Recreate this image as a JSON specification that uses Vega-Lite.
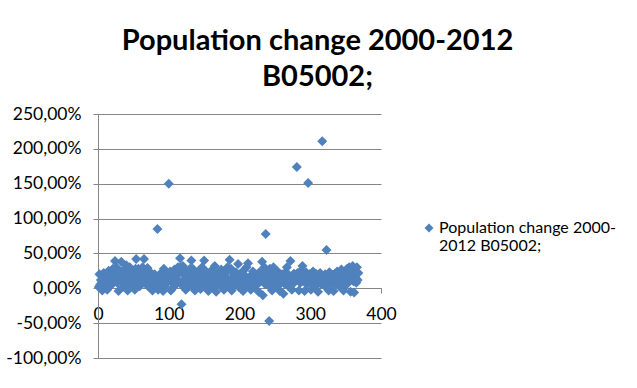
{
  "$schema": "https://vega.github.io/schema/vega-lite/v6.json",
  "width": 283,
  "height": 244,
  "autosize": "none",
  "padding": {"left": 98, "top": 114, "right": 256, "bottom": 30},
  "background": "white",
  "config": {
    "view": {"stroke": null},
    "font": "Lato",
    "axis": {"labelFont": "Lato", "labelFontSize": 17.5, "labelColor": "#000000", "domainColor": "#868686", "tickColor": "#868686", "gridColor": "#868686", "tickSize": 5}
  },
  "title": {
    "text": ["Population change 2000-2012", "B05002;"],
    "font": "Lato",
    "fontSize": 29,
    "fontWeight": "bold",
    "color": "#000000",
    "anchor": "middle",
    "frame": "group",
    "dx": 78,
    "offset": 13,
    "lineHeight": 36
  },
  "data": {"values": [
{"x":1,"y":2},{"x":2,"y":20},{"x":3,"y":5},{"x":4,"y":12},{"x":5,"y":8},{"x":6,"y":-3},{"x":7,"y":15},{"x":8,"y":22},{"x":9,"y":10},{"x":10,"y":4},
{"x":11,"y":18},{"x":12,"y":7},{"x":13,"y":-2},{"x":14,"y":14},{"x":15,"y":25},{"x":16,"y":9},{"x":17,"y":3},{"x":18,"y":16},{"x":19,"y":11},{"x":20,"y":6},
{"x":21,"y":28},{"x":22,"y":19},{"x":23,"y":13},{"x":24,"y":39},{"x":25,"y":20},{"x":26,"y":30},{"x":27,"y":8},{"x":28,"y":25},{"x":29,"y":-4},{"x":30,"y":17},
{"x":31,"y":12},{"x":32,"y":24},{"x":33,"y":38},{"x":34,"y":10},{"x":35,"y":2},{"x":36,"y":19},{"x":37,"y":27},{"x":38,"y":6},{"x":39,"y":15},{"x":40,"y":33},
{"x":41,"y":9},{"x":42,"y":-3},{"x":43,"y":21},{"x":44,"y":14},{"x":45,"y":30},{"x":46,"y":7},{"x":47,"y":18},{"x":48,"y":4},{"x":49,"y":12},{"x":50,"y":25},
{"x":51,"y":16},{"x":52,"y":-2},{"x":53,"y":28},{"x":54,"y":42},{"x":55,"y":22},{"x":56,"y":6},{"x":57,"y":28},{"x":58,"y":13},{"x":59,"y":3},{"x":60,"y":19},
{"x":61,"y":8},{"x":62,"y":24},{"x":63,"y":30},{"x":64,"y":15},{"x":65,"y":42},{"x":66,"y":20},{"x":67,"y":10},{"x":68,"y":20},{"x":69,"y":5},{"x":70,"y":29},
{"x":71,"y":14},{"x":72,"y":2},{"x":73,"y":18},{"x":74,"y":9},{"x":75,"y":22},{"x":76,"y":12},{"x":77,"y":-3},{"x":78,"y":16},{"x":79,"y":7},{"x":80,"y":20},
{"x":81,"y":11},{"x":82,"y":4},{"x":83,"y":13},{"x":84,"y":85},{"x":85,"y":-2},{"x":86,"y":8},{"x":87,"y":15},{"x":88,"y":21},{"x":89,"y":6},{"x":90,"y":11},
{"x":91,"y":17},{"x":92,"y":-4},{"x":93,"y":28},{"x":94,"y":10},{"x":95,"y":3},{"x":96,"y":14},{"x":97,"y":22},{"x":98,"y":9},{"x":99,"y":20},{"x":100,"y":150},
{"x":101,"y":12},{"x":102,"y":24},{"x":103,"y":-3},{"x":104,"y":16},{"x":105,"y":8},{"x":106,"y":19},{"x":107,"y":2},{"x":108,"y":27},{"x":109,"y":11},{"x":110,"y":6},
{"x":111,"y":18},{"x":112,"y":13},{"x":113,"y":30},{"x":114,"y":22},{"x":115,"y":9},{"x":116,"y":43},{"x":117,"y":31},{"x":118,"y":-23},{"x":119,"y":4},{"x":120,"y":32},
{"x":121,"y":20},{"x":122,"y":7},{"x":123,"y":14},{"x":124,"y":-2},{"x":125,"y":25},{"x":126,"y":11},{"x":127,"y":17},{"x":128,"y":5},{"x":129,"y":23},{"x":130,"y":28},
{"x":131,"y":9},{"x":132,"y":40},{"x":133,"y":3},{"x":134,"y":28},{"x":135,"y":12},{"x":136,"y":19},{"x":137,"y":-3},{"x":138,"y":8},{"x":139,"y":22},{"x":140,"y":14},
{"x":141,"y":6},{"x":142,"y":18},{"x":143,"y":26},{"x":144,"y":10},{"x":145,"y":-1},{"x":146,"y":15},{"x":147,"y":30},{"x":148,"y":7},{"x":149,"y":21},{"x":150,"y":40},
{"x":151,"y":3},{"x":152,"y":17},{"x":153,"y":24},{"x":154,"y":9},{"x":155,"y":14},{"x":156,"y":-4},{"x":157,"y":20},{"x":158,"y":6},{"x":159,"y":11},{"x":160,"y":25},
{"x":161,"y":8},{"x":162,"y":16},{"x":163,"y":2},{"x":164,"y":19},{"x":165,"y":32},{"x":166,"y":10},{"x":167,"y":-5},{"x":168,"y":14},{"x":169,"y":22},{"x":170,"y":7},
{"x":171,"y":18},{"x":172,"y":12},{"x":173,"y":4},{"x":174,"y":27},{"x":175,"y":9},{"x":176,"y":15},{"x":177,"y":21},{"x":178,"y":-2},{"x":179,"y":11},{"x":180,"y":17},
{"x":181,"y":6},{"x":182,"y":24},{"x":183,"y":30},{"x":184,"y":13},{"x":185,"y":3},{"x":186,"y":41},{"x":187,"y":10},{"x":188,"y":28},{"x":189,"y":-3},{"x":190,"y":15},
{"x":191,"y":8},{"x":192,"y":20},{"x":193,"y":12},{"x":194,"y":5},{"x":195,"y":23},{"x":196,"y":9},{"x":197,"y":16},{"x":198,"y":35},{"x":199,"y":2},{"x":200,"y":14},
{"x":201,"y":21},{"x":202,"y":7},{"x":203,"y":18},{"x":204,"y":11},{"x":205,"y":-4},{"x":206,"y":26},{"x":207,"y":13},{"x":208,"y":4},{"x":209,"y":17},{"x":210,"y":30},
{"x":211,"y":9},{"x":212,"y":36},{"x":213,"y":6},{"x":214,"y":15},{"x":215,"y":12},{"x":216,"y":-2},{"x":217,"y":19},{"x":218,"y":8},{"x":219,"y":24},{"x":220,"y":10},
{"x":221,"y":14},{"x":222,"y":3},{"x":223,"y":20},{"x":224,"y":7},{"x":225,"y":16},{"x":226,"y":11},{"x":227,"y":-5},{"x":228,"y":23},{"x":229,"y":9},{"x":230,"y":18},
{"x":231,"y":13},{"x":232,"y":38},{"x":233,"y":-10},{"x":234,"y":25},{"x":235,"y":30},{"x":236,"y":6},{"x":237,"y":78},{"x":238,"y":17},{"x":239,"y":12},{"x":240,"y":21},
{"x":241,"y":4},{"x":242,"y":-47},{"x":243,"y":28},{"x":244,"y":9},{"x":245,"y":19},{"x":246,"y":-3},{"x":247,"y":13},{"x":248,"y":30},{"x":249,"y":7},{"x":250,"y":22},
{"x":251,"y":11},{"x":252,"y":16},{"x":253,"y":2},{"x":254,"y":24},{"x":255,"y":10},{"x":256,"y":18},{"x":257,"y":-4},{"x":258,"y":14},{"x":259,"y":8},{"x":260,"y":20},
{"x":261,"y":12},{"x":262,"y":-8},{"x":263,"y":17},{"x":264,"y":6},{"x":265,"y":23},{"x":266,"y":11},{"x":267,"y":30},{"x":268,"y":15},{"x":269,"y":3},{"x":270,"y":19},
{"x":271,"y":9},{"x":272,"y":39},{"x":273,"y":13},{"x":274,"y":-2},{"x":275,"y":18},{"x":276,"y":7},{"x":277,"y":21},{"x":278,"y":12},{"x":279,"y":10},{"x":280,"y":16},
{"x":281,"y":174},{"x":282,"y":22},{"x":283,"y":12},{"x":284,"y":-3},{"x":285,"y":17},{"x":286,"y":8},{"x":287,"y":25},{"x":288,"y":14},{"x":289,"y":32},{"x":290,"y":10},
{"x":291,"y":19},{"x":292,"y":-4},{"x":293,"y":11},{"x":294,"y":23},{"x":295,"y":6},{"x":296,"y":15},{"x":297,"y":151},{"x":298,"y":9},{"x":299,"y":20},{"x":300,"y":13},
{"x":301,"y":-2},{"x":302,"y":18},{"x":303,"y":7},{"x":304,"y":24},{"x":305,"y":11},{"x":306,"y":16},{"x":307,"y":3},{"x":308,"y":21},{"x":309,"y":9},{"x":310,"y":14},
{"x":311,"y":-5},{"x":312,"y":19},{"x":313,"y":12},{"x":314,"y":22},{"x":315,"y":6},{"x":316,"y":15},{"x":317,"y":211},{"x":318,"y":10},{"x":319,"y":17},{"x":320,"y":4},
{"x":321,"y":20},{"x":322,"y":13},{"x":323,"y":55},{"x":324,"y":8},{"x":325,"y":18},{"x":326,"y":-3},{"x":327,"y":23},{"x":328,"y":11},{"x":329,"y":15},{"x":330,"y":6},
{"x":331,"y":19},{"x":332,"y":10},{"x":333,"y":-4},{"x":334,"y":16},{"x":335,"y":21},{"x":336,"y":7},{"x":337,"y":13},{"x":338,"y":24},{"x":339,"y":9},{"x":340,"y":17},
{"x":341,"y":3},{"x":342,"y":20},{"x":343,"y":12},{"x":344,"y":27},{"x":345,"y":8},{"x":346,"y":15},{"x":347,"y":-3},{"x":348,"y":22},{"x":349,"y":11},{"x":350,"y":18},
{"x":351,"y":5},{"x":352,"y":28},{"x":353,"y":14},{"x":354,"y":9},{"x":355,"y":30},{"x":356,"y":16},{"x":357,"y":-5},{"x":358,"y":21},{"x":359,"y":12},{"x":360,"y":32},
{"x":361,"y":10},{"x":362,"y":-6},{"x":363,"y":25},{"x":364,"y":15},{"x":365,"y":8},{"x":366,"y":30},{"x":367,"y":12},{"x":368,"y":22}
  ]},
  "mark": {"type": "point", "filled": true, "shape": "diamond", "size": 100, "opacity": 1, "strokeWidth": 0},
  "encoding": {
    "x": {
      "field": "x", "type": "quantitative",
      "scale": {"domain": [0, 400], "nice": false, "zero": false},
      "axis": {"title": null, "values": [0, 100, 200, 300, 400], "grid": false, "offset": -70, "labelPadding": 12, "labelFlush": false}
    },
    "y": {
      "field": "y", "type": "quantitative",
      "scale": {"domain": [-100, 250], "nice": false},
      "axis": {"title": null, "values": [-100, -50, 0, 50, 100, 150, 200, 250], "grid": true, "labelPadding": 12,
        "labelExpr": "replace(replace(format(datum.value, '.2f'), '.', ','), '\u2212', '-') + '%'"}
    },
    "color": {
      "datum": "Population change 2000-2012 B05002;",
      "type": "nominal",
      "scale": {"range": ["#4F81BD"]},
      "legend": {
        "title": null,
        "orient": "none",
        "legendX": 323,
        "legendY": 111,
        "symbolType": "M-1,-1.12L0,-2.12L1,-1.12L0,-0.12Z",
        "symbolSize": 80,
        "symbolStrokeWidth": 0,
        "labelFont": "Lato",
        "labelFontSize": 16,
        "labelColor": "#000000",
        "labelLimit": 300,
        "labelOffset": 2,
        "labelBaseline": "alphabetic",
        "labelExpr": "['Population change 2000-', '2012 B05002;']"
      }
    }
  }
}
